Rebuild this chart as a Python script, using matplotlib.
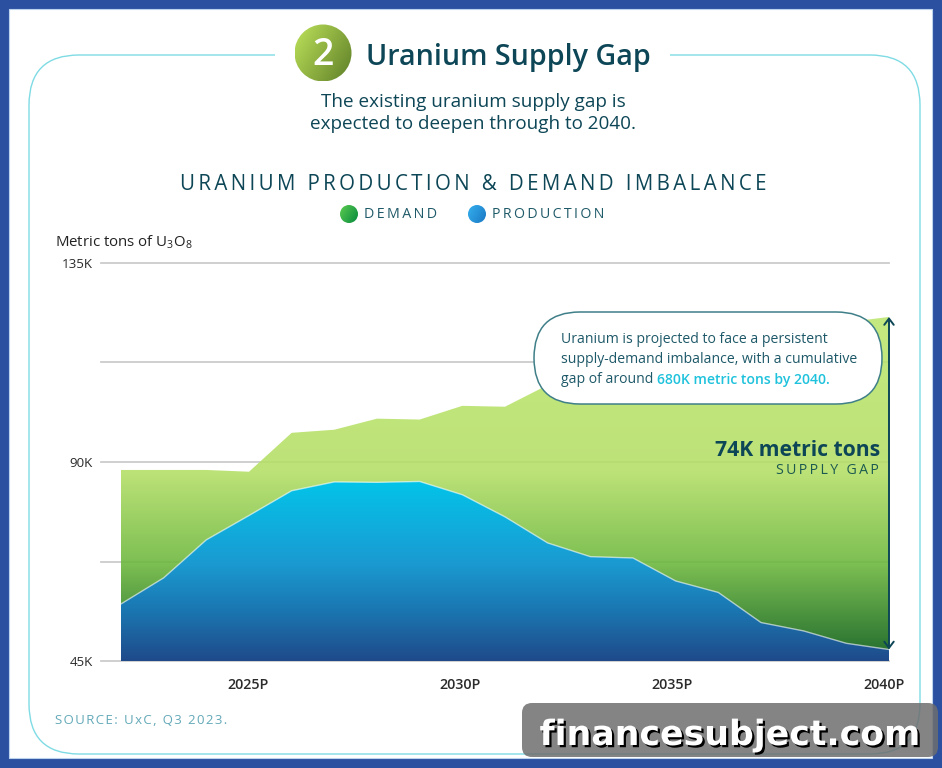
import matplotlib
matplotlib.use('Agg')
import matplotlib.pyplot as plt
import matplotlib.patheffects as pe
from matplotlib.colors import LinearSegmentedColormap
from matplotlib.patches import Circle, FancyBboxPatch, Rectangle
from matplotlib.transforms import ScaledTranslation
import numpy as np

plt.rcParams['font.family'] = ['Open Sans', 'DejaVu Sans']

# 数据 (thousand metric tons of U3O8)
years = [2022, 2023, 2024, 2025, 2026, 2027, 2028, 2029, 2030, 2031,
         2032, 2033, 2034, 2035, 2036, 2037, 2038, 2039, 2040]
demand = [88.2, 88.2, 88.2, 87.8, 96.6, 97.3, 99.8, 99.6, 102.7, 102.5,
          107.4, 110.0, 112.4, 114.9, 117.0, 118.8, 120.6, 121.6, 122.8]
production = [57.9, 63.8, 72.4, 77.9, 83.5, 85.5, 85.4, 85.6, 82.6, 77.6,
              71.7, 68.6, 68.3, 63.1, 60.5, 53.7, 51.8, 49.0, 47.6]
x_ticks = [2025, 2030, 2035, 2040]
x_tick_labels = ['2025P', '2030P', '2035P', '2040P']
y_ticks = [45, 67.5, 90, 112.5, 135]
y_tick_labels = ['45K', '', '90K', '', '135K']

W, H = 942, 768
DARK = '#0d4656'
TEAL = '#7fdbe4'

green_cmap = LinearSegmentedColormap.from_list(
    'green', [(0, '#bce66e'), (0.45, '#b4df65'), (0.72, '#6ab63a'), (1, '#00550f')])
blue_cmap = LinearSegmentedColormap.from_list(
    'blue', [(0, '#03c4e9'), (0.45, '#1a9bd2'), (0.75, '#1b72ad'), (1, '#1f4a8a')])


def spaced(s, gap='\u2009'):
    return gap.join(s)


def gradient_disc(ax, cx, cy, r, left, right, zorder=3):
    # circle filled with a diagonal gradient
    cmap = LinearSegmentedColormap.from_list('disc', [left, right])
    xx, yy = np.meshgrid(np.linspace(0, 1, 64), np.linspace(0, 1, 64))
    im = ax.imshow((xx + 0.6 * yy) / 1.6, cmap=cmap, aspect='auto', origin='upper',
                   extent=(cx - r, cx + r, cy + r, cy - r), zorder=zorder)
    disc = Circle((cx, cy), r, transform=ax.transData, fc='none', ec='none')
    ax.add_patch(disc)
    im.set_clip_path(disc)


def pixel_axes(zorder):
    ax = fig.add_axes([0, 0, 1, 1], zorder=zorder)
    ax.set_xlim(0, W)
    ax.set_ylim(H, 0)
    ax.axis('off')
    return ax


fig = plt.figure(figsize=(W / 100, H / 100), dpi=100, facecolor='#2c50a0')

# 背景面板
bg = pixel_axes(0)
bg.add_patch(Rectangle((9, 9), 923, 749, fc='white', ec='#bcd3ee', lw=0.8))
bg.add_patch(FancyBboxPatch((29 + 50, 55 + 50), 891 - 100, 699 - 100,
                            boxstyle='round,pad=50,rounding_size=50',
                            fc='none', ec=TEAL, lw=1))
bg.add_patch(Rectangle((275, 50), 395, 10, fc='white', ec='none'))

# 主图
left, right, top, bottom = 101, 889, 263, 661
ax = fig.add_axes([left / W, 1 - bottom / H, (right - left) / W, (bottom - top) / H], zorder=1)
ax.patch.set_alpha(0)

x_start = 2022 - 20 / (768 / 18)
green_poly = ax.fill_between(years, demand, 45, fc='none', ec='none')
blue_poly = ax.fill_between(years, production, 45, fc='none', ec='none')

# 网格线画在绿色区域下方, 透出一点
grad = np.linspace(0, 1, 256)[:, None]
im_green = ax.imshow(grad, cmap=green_cmap, aspect='auto', origin='upper', zorder=1, alpha=0.88,
                     extent=(2022, 2040, 45, max(demand)))
im_green.set_clip_path(green_poly.get_paths()[0], ax.transData)
im_blue = ax.imshow(grad, cmap=blue_cmap, aspect='auto', origin='upper', zorder=2,
                    extent=(2022, 2040, 45, max(production)))
im_blue.set_clip_path(blue_poly.get_paths()[0], ax.transData)
ax.plot(years, production, color='white', lw=1, alpha=0.6, zorder=2.2)

ax.set_xlim(x_start, 2040)
ax.set_ylim(45, 135)
ax.set_xticks(x_ticks)
ax.set_xticklabels(x_tick_labels, fontsize=10.3, color='#2b2b2b', fontweight='semibold')
ax.set_yticks(y_ticks)
ax.set_yticklabels(y_tick_labels, fontsize=9.6, color='#2b2b2b')
ax.tick_params(axis='both', length=0)
ax.tick_params(axis='x', pad=12)
ax.tick_params(axis='y', pad=6)
ax.set_axisbelow(True)
ax.grid(axis='y', color='#999999', alpha=0.5, lw=1.3, clip_on=False)
ax.grid(axis='x', visible=False)
for spine in ax.spines.values():
    spine.set_visible(False)

# 年份标签略微左移
for lab, shift in zip(ax.get_xticklabels(), [-1, -2, -4, -5]):
    lab.set_transform(lab.get_transform() + ScaledTranslation(shift / 100, 0, fig.dpi_scale_trans))

# 缺口箭头
ax.annotate('', xy=(2040, demand[-1]), xytext=(2040, production[-1]), annotation_clip=False,
            arrowprops=dict(arrowstyle='<->,head_length=0.45,head_width=0.34', color=DARK, lw=1.4,
                            shrinkA=0, shrinkB=0), zorder=4)

# 标题和文字
top_ax = pixel_axes(2)
gradient_disc(top_ax, 323, 53, 28.5, '#bde25a', '#5f7f28')
top_ax.text(323, 55, '2', color='white', fontsize=27, fontweight='semibold', ha='center', va='center')
top_ax.text(366, 58, 'Uranium Supply Gap', color=DARK, fontsize=20.6, fontweight='semibold',
            ha='left', va='center')
top_ax.text(473, 102, 'The existing uranium supply gap is', color=DARK, fontsize=13.6,
            ha='center', va='center')
top_ax.text(473, 124, 'expected to deepen through to 2040.', color=DARK, fontsize=13.6,
            ha='center', va='center')
top_ax.text(473, 184, spaced('URANIUM PRODUCTION & DEMAND IMBALANCE'), color=DARK, fontsize=14.8,
            ha='center', va='center')

gradient_disc(top_ax, 349, 214, 9, '#5ccc50', '#078a3e')
top_ax.text(364, 215, spaced('DEMAND'), color='#1f5a68', fontsize=10.3, ha='left', va='center')
gradient_disc(top_ax, 477, 214, 9, '#35b0ee', '#1a78c4')
top_ax.text(492, 215, spaced('PRODUCTION'), color='#1f5a68', fontsize=10.2, ha='left', va='center')

top_ax.text(55, 242, r'Metric tons of U$\mathregular{_3}$O$\mathregular{_8}$', color='#222222',
            fontsize=10.8, ha='left', va='center')

# 说明框
top_ax.add_patch(FancyBboxPatch((534 + 46, 312 + 46), 348 - 92, 0.01,
                                boxstyle='round,pad=46,rounding_size=46',
                                fc='white', ec='#3f7f88', lw=1.1, zorder=2.5))
note_kw = dict(fontsize=10.1, ha='left', va='baseline', zorder=3, fontweight='medium')
top_ax.text(561, 343, 'Uranium is projected to face a persistent', color='#1d5868', **note_kw)
top_ax.text(561, 363, 'supply-demand imbalance, with a cumulative', color='#1d5868', **note_kw)
note = top_ax.text(561, 383, 'gap of around ', color='#1d5868', **note_kw)
top_ax.annotate('680K metric tons by 2040.', xy=(1, 0), xycoords=note, va='bottom', ha='left',
                fontsize=10.1, fontweight='semibold', color='#1fc2dc', zorder=3)

top_ax.text(880, 450, '74K metric tons', color=DARK, fontsize=15.2, fontweight='bold',
            ha='right', va='center')
top_ax.text(879, 470, spaced('SUPPLY GAP'), color='#1c5a50', fontsize=10.2, ha='right', va='center')

top_ax.text(55, 720, spaced('SOURCE: UxC, Q3 2023.', '\u200a'), color='#63a9b8', fontsize=9.5,
            ha='left', va='center')

# 网站水印
top_ax.add_patch(FancyBboxPatch((532, 713), 396, 34, boxstyle='round,pad=10,rounding_size=10',
                                fc='#6e6e6e', ec='none', alpha=0.85, zorder=5))
top_ax.text(730, 735, 'financesubject.com', color='white', fontsize=25, fontweight='bold',
            family='DejaVu Sans', ha='center', va='center', zorder=6,
            path_effects=[pe.withSimplePatchShadow(offset=(1.6, -1.6), shadow_rgbFace='black', alpha=1)])

top_ax.set_xlim(0, W)
top_ax.set_ylim(H, 0)

fig.savefig('out.png', dpi=100, facecolor=fig.get_facecolor())
